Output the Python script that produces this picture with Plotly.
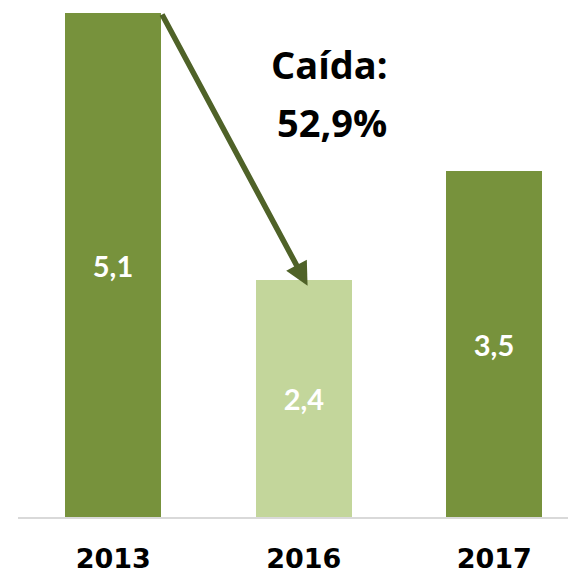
import plotly.graph_objects as go

years = ["2013", "2016", "2017"]
values = [5.1, 2.4, 3.5]
value_labels = ["5,1", "2,4", "3,5"]
bar_colors = ["#77923c", "#c3d69b", "#77923c"]
drop_title = "Caída:"
drop_value = "52,9%"

bar_width = 0.504

fig = go.Figure()
fig.add_trace(go.Bar(
    x=years, y=values, width=bar_width,
    marker=dict(color=bar_colors, line=dict(width=0)),
    text=value_labels, textposition="inside", insidetextanchor="middle",
    textfont=dict(family="Lato", size=29, color="white", weight="bold"),
    hoverinfo="skip",
))

# arrow from top-right corner of 2013 bar to top of 2016 bar
fig.add_annotation(
    x=1.02, y=values[1] - 0.06, xref="x", yref="y",
    ax=0 + bar_width / 2, ay=values[0], axref="x", ayref="y",
    showarrow=True, arrowhead=2, arrowsize=0.85, arrowwidth=5.5,
    arrowcolor="#4f6228", text="",
)
fig.add_annotation(
    x=1.133, y=4.58, xref="x", yref="y", showarrow=False,
    text=drop_title,
    font=dict(family="Open Sans", size=38, color="black", weight="bold"),
)
fig.add_annotation(
    x=1.148, y=4.0, xref="x", yref="y", showarrow=False,
    text=drop_value,
    font=dict(family="Open Sans", size=38, color="black", weight="bold"),
)

fig.update_layout(
    width=568, height=570,
    margin=dict(l=10, r=0, t=5, b=61),
    paper_bgcolor="white", plot_bgcolor="white",
    showlegend=False,
    bargap=0,
    xaxis=dict(
        type="category", range=[-0.5, 2.429],
        showline=True, linecolor="#d9d9d9", linewidth=1.5,
        showgrid=False, ticks="", ticklabelstandoff=17,
        tickfont=dict(family="DejaVu Sans", size=27, color="black", weight="bold"),
    ),
    yaxis=dict(range=[0, 5.1], visible=False, showgrid=False),
)

fig.write_html("out.html")
